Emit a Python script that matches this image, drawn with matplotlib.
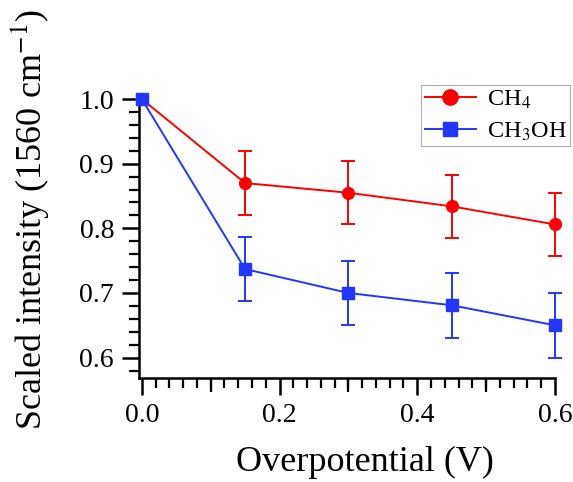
import numpy as np
import matplotlib
matplotlib.use("Agg")
import matplotlib.pyplot as plt
from matplotlib.ticker import MultipleLocator, FixedLocator, FormatStrFormatter
from matplotlib.lines import Line2D

plt.rcParams['font.family'] = ['Liberation Serif', 'DejaVu Serif']
plt.rcParams['mathtext.fontset'] = 'stix'

# data
overpotential = [0.0, 0.15, 0.30, 0.45, 0.60]
ch4 = [1.0, 0.870, 0.855, 0.834, 0.806]
ch4_err = [0.0, 0.049, 0.049, 0.049, 0.049]
ch3oh = [1.0, 0.737, 0.700, 0.681, 0.650]
ch3oh_err = [0.0, 0.050, 0.050, 0.050, 0.050]

red = '#ff0000'
blue = '#2336ff'

fig = plt.figure(figsize=(5.73, 4.82), dpi=100)
ax = fig.add_axes([0.2426, 0.2164, 0.7260, 0.5782])

ax.errorbar(overpotential, ch4, yerr=ch4_err, color=red, marker='o', ms=8.5,
            lw=1.4, elinewidth=1.4, capsize=5, capthick=1.4,
            clip_on=False, zorder=3)
ax.errorbar(overpotential, ch3oh, yerr=ch3oh_err, color=blue, marker='s', ms=8,
            lw=1.4, elinewidth=1.4, capsize=5, capthick=1.4,
            clip_on=False, zorder=4)

ax.set_xlim(-0.004, 0.6)
ax.set_ylim(0.569, 1.0)

# ticks
ax.xaxis.set_major_locator(MultipleLocator(0.2))
ax.xaxis.set_minor_locator(MultipleLocator(0.02))
ax.yaxis.set_major_locator(MultipleLocator(0.1))
ax.yaxis.set_minor_locator(MultipleLocator(0.02))
ax.xaxis.set_major_formatter(FormatStrFormatter('%.1f'))
ax.yaxis.set_major_formatter(FormatStrFormatter('%.1f'))
ax.tick_params(which='major', direction='out', length=12, width=1.8,
               labelsize=20, pad=6)
ax.tick_params(which='minor', direction='out', length=7, width=1.6)

# medium ticks at odd tenths on x
sec = ax.secondary_xaxis('bottom')
sec.xaxis.set_major_locator(FixedLocator([0.1, 0.3, 0.5]))
sec.tick_params(direction='out', length=10, width=1.6, labelbottom=False)
sec.spines['bottom'].set_visible(False)

for s in ['top', 'right']:
    ax.spines[s].set_visible(False)
for s in ['left', 'bottom']:
    ax.spines[s].set_linewidth(1.8)

# axis titles placed as in the original
fig.text(365 / 573, 1 - 471 / 482, 'Overpotential (V)', fontsize=26,
         ha='center', va='baseline')
fig.text(30 / 573, 1 - 220 / 482, 'Scaled intensity (1560 cm$^{-1}$)',
         fontsize=26, rotation=90, ha='center', va='center')

handles = [Line2D([], [], color=red, marker='o', ms=11, lw=1.4),
           Line2D([], [], color=blue, marker='s', ms=10.5, lw=1.4)]
leg = fig.legend(handles, ['CH$_4$', 'CH$_3$OH'], loc='upper right',
                 bbox_to_anchor=(0.995, 0.824), fontsize=17.5,
                 frameon=True, fancybox=False, handlelength=2.1,
                 borderpad=0.15, labelspacing=0.4, handletextpad=0.45,
                 borderaxespad=0)
leg.get_frame().set_edgecolor('#999999')
leg.get_frame().set_linewidth(0.8)

fig.savefig('out.png', dpi=100)
